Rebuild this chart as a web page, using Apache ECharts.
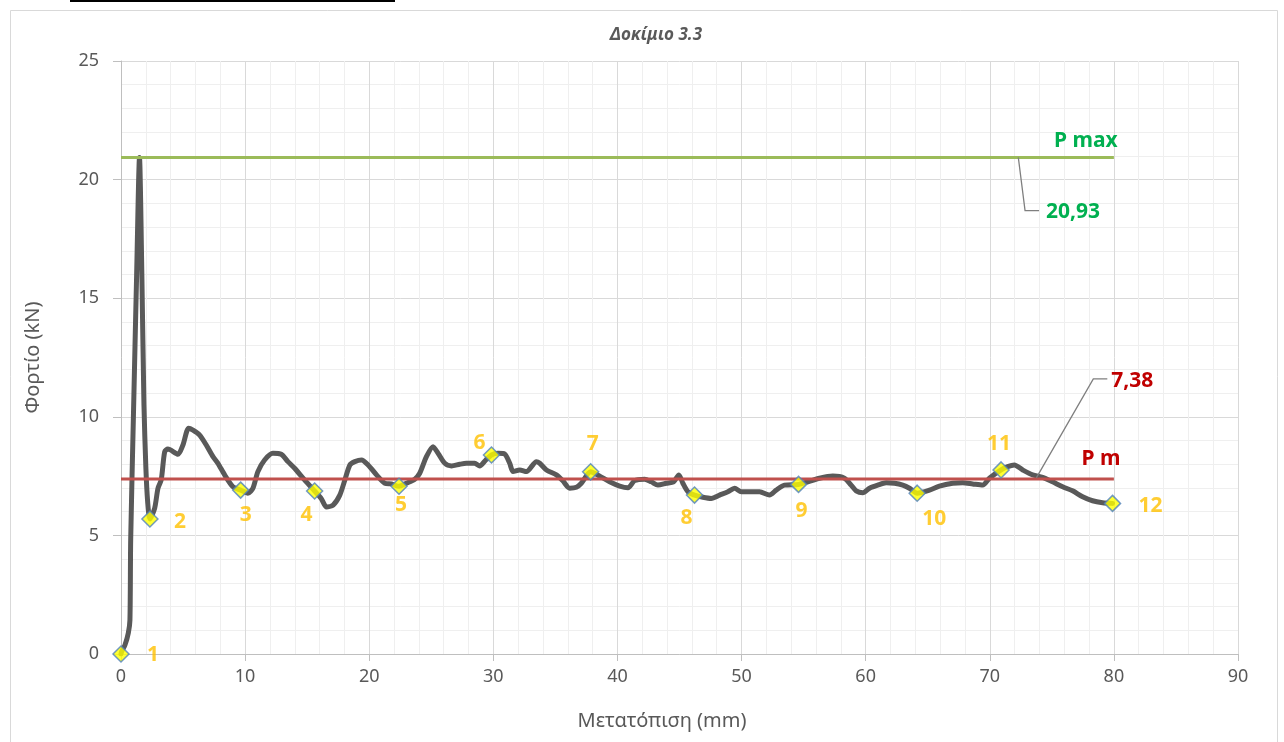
<!DOCTYPE html>
<html>
<head>
<meta charset="utf-8">
<script src="https://cdn.jsdelivr.net/npm/echarts@6/dist/echarts.min.js"></script>
<style>
  html, body { margin: 0; padding: 0; background: #ffffff; }
  #chart { width: 1284px; height: 742px; }
</style>
</head>
<body>
<div id="chart"></div>
<script>
// Load–displacement record of specimen 3.3
const dispX = [0, 0.05, 0.32, 0.59, 0.72, 0.78, 1.0, 1.26, 1.49, 1.68, 1.85, 2.0, 2.15, 2.33, 2.71, 2.98, 3.24, 3.52, 3.78, 4.59, 4.99, 5.45, 5.80, 6.34, 6.87, 7.41, 7.81, 8.35, 9.02, 9.64, 10.23, 10.63, 11.03, 11.57, 12.24, 12.91, 13.45, 13.99, 14.79, 15.60, 16.13, 16.56, 17.09, 17.63, 18.04, 18.44, 18.84, 19.38, 19.91, 20.59, 21.26, 21.80, 22.40, 23.00, 23.67, 24.07, 24.61, 25.14, 25.55, 26.09, 26.63, 27.29, 27.83, 28.50, 28.90, 29.39, 29.85, 30.38, 30.92, 31.32, 31.59, 32.13, 32.67, 33.47, 33.74, 34.28, 35.08, 35.60, 36.15, 36.69, 37.09, 37.84, 38.57, 39.37, 40.18, 40.85, 41.38, 42.19, 42.73, 43.26, 43.94, 44.52, 44.95, 45.27, 45.68, 46.21, 46.88, 47.56, 48.23, 48.90, 49.44, 49.98, 50.64, 51.45, 52.25, 52.79, 53.46, 54.59, 55.34, 56.28, 57.35, 58.29, 58.83, 59.23, 59.77, 60.31, 60.97, 61.65, 62.32, 62.99, 63.53, 64.15, 65.14, 65.94, 67.01, 67.82, 68.62, 69.43, 69.97, 70.91, 71.44, 71.98, 72.65, 73.45, 74.26, 75.06, 75.87, 76.67, 77.48, 78.28, 79.09, 79.89];
const loadY = [0, 0.10, 0.38, 0.89, 1.43, 4.8, 10, 16, 20.93, 16, 10.5, 7.9, 6.4, 5.69, 6.14, 6.99, 7.34, 8.53, 8.64, 8.42, 8.81, 9.52, 9.44, 9.23, 8.81, 8.32, 8.04, 7.55, 7.05, 6.91, 6.78, 6.99, 7.69, 8.18, 8.46, 8.42, 8.11, 7.83, 7.34, 6.87, 6.56, 6.20, 6.28, 6.70, 7.34, 7.97, 8.11, 8.18, 7.97, 7.55, 7.20, 7.17, 7.07, 7.20, 7.37, 7.62, 8.32, 8.74, 8.46, 8.04, 7.93, 8.00, 8.04, 8.04, 7.93, 8.18, 8.39, 8.46, 8.43, 8.04, 7.69, 7.76, 7.69, 8.11, 8.04, 7.76, 7.55, 7.30, 6.99, 7.03, 7.20, 7.68, 7.50, 7.26, 7.08, 7.01, 7.31, 7.37, 7.26, 7.12, 7.20, 7.26, 7.55, 7.20, 6.84, 6.70, 6.61, 6.56, 6.70, 6.84, 6.99, 6.84, 6.84, 6.84, 6.70, 6.91, 7.12, 7.15, 7.26, 7.41, 7.50, 7.41, 7.12, 6.88, 6.80, 6.99, 7.12, 7.22, 7.20, 7.12, 6.99, 6.78, 6.91, 7.08, 7.20, 7.22, 7.17, 7.12, 7.41, 7.76, 7.90, 7.97, 7.76, 7.55, 7.45, 7.26, 7.05, 6.88, 6.63, 6.46, 6.38, 6.35];

// Numbered reading points along the curve
const pointNames = ['1', '2', '3', '4', '5', '6', '7', '8', '9', '10', '11', '12'];
const pointX = [0, 2.33, 9.64, 15.60, 22.40, 29.85, 37.84, 46.21, 54.59, 64.15, 70.91, 79.89];
const pointY = [0, 5.69, 6.91, 6.87, 7.07, 8.39, 7.68, 6.70, 7.15, 6.78, 7.76, 6.35];

// Reference levels
const P_MAX = 20.93;
const P_M = 7.38;
const levelEndX = 80;
const pMaxText = '20,93';
const pMText = '7,38';

// Tick labels
const xTicks = [0, 10, 20, 30, 40, 50, 60, 70, 80, 90];
const yTicks = [0, 5, 10, 15, 20, 25];

const FONT = '"Noto Sans", "Open Sans", sans-serif';
const TXT = '#595959';

// Label placement around each numbered point (pixel offsets from the marker)
const labelOffsets = [[32, 1], [30, 3], [5, 25], [-8, 24], [2, 19], [-12, -12], [2, -28], [-8, 23], [3, 27], [17, 26], [-2, -26], [38, 3]];

const chart = echarts.init(document.getElementById('chart'), null, { renderer: 'canvas' });

const curve = dispX.map((x, i) => [x, loadY[i]]);
const points = pointX.map((x, i) => ({
  value: [x, pointY[i]],
  name: pointNames[i],
  label: { offset: labelOffsets[i] }
}));

chart.setOption({
  animation: false,
  backgroundColor: '#ffffff',
  title: {
    text: 'Δοκίμιο 3.3',
    left: 651, top: 22, textAlign: 'center',
    textStyle: { fontFamily: FONT, fontSize: 17, fontWeight: 'bold', fontStyle: 'italic', color: TXT }
  },
  grid: { left: 121, right: 46, top: 61, bottom: 88 },
  xAxis: {
    type: 'value', min: xTicks[0], max: xTicks[xTicks.length - 1], interval: 10,
    axisLine: { show: true, lineStyle: { color: '#BFBFBF', width: 1 } },
    axisTick: { show: true, length: 7, lineStyle: { color: '#BFBFBF' } },
    axisLabel: { margin: 14, fontFamily: FONT, fontSize: 18, color: TXT },
    splitLine: { show: true, lineStyle: { color: '#D9D9D9', width: 1 } },
    minorTick: { show: false, splitNumber: 5 },
    minorSplitLine: { show: true, lineStyle: { color: '#EFEFEF', width: 1 } }
  },
  yAxis: {
    type: 'value', min: yTicks[0], max: yTicks[yTicks.length - 1], interval: 5,
    name: 'Φορτίο (kN)', nameLocation: 'middle', nameGap: 78,
    nameTextStyle: { fontFamily: FONT, fontSize: 20, color: TXT },
    axisLine: { show: true, lineStyle: { color: '#BFBFBF', width: 1 } },
    axisTick: { show: true, length: 8, lineStyle: { color: '#BFBFBF' } },
    axisLabel: { margin: 22, fontFamily: FONT, fontSize: 18, color: TXT },
    splitLine: { show: true, lineStyle: { color: '#D9D9D9', width: 1 } },
    minorTick: { show: false, splitNumber: 5 },
    minorSplitLine: { show: true, lineStyle: { color: '#EFEFEF', width: 1 } }
  },
  series: [
    {
      name: 'curve', type: 'line', data: curve, smooth: 0.25, showSymbol: false, z: 2,
      lineStyle: { color: '#595959', width: 5, cap: 'round', join: 'round' }
    },
    {
      name: 'P max', type: 'line', data: [[0, P_MAX], [levelEndX, P_MAX]], showSymbol: false, z: 3,
      lineStyle: { color: '#9BBB59', width: 3 }
    },
    {
      name: 'P m', type: 'line', data: [[0, P_M], [levelEndX, P_M]], showSymbol: false, z: 3,
      lineStyle: { color: '#C0504D', width: 3 }
    },
    {
      name: 'points', type: 'scatter', data: points, symbol: 'diamond', symbolSize: 16, z: 5,
      itemStyle: { color: '#FFFF00', borderColor: '#4F81BD', borderWidth: 1.5 },
      label: {
        show: true, position: 'inside', formatter: '{b}', align: 'center', verticalAlign: 'middle',
        fontFamily: FONT, fontSize: 21, fontWeight: 'bold', color: '#FFC000'
      }
    }
  ]
});

// Value call-outs for the two reference levels, anchored to the chart's coordinates
function px(x, y) { return chart.convertToPixel({ gridIndex: 0 }, [x, y]); }

const maxEnd = px(levelEndX, P_MAX);
const maxA = px(72.3, P_MAX);
const maxB = px(72.6, P_MAX);
const mA = px(73.75, P_M);
const mEnd = px(levelEndX, P_M);

const boldText = (x, y, text, color, align) => ({
  type: 'text', x, y, z: 10,
  style: { text, fill: color, font: 'bold 21px ' + FONT, align: align || 'center', verticalAlign: 'middle' }
});

chart.setOption({
  graphic: [
    { type: 'rect', shape: { x: 10.5, y: 10.5, width: 1267, height: 740 }, style: { fill: 'none', stroke: '#D9D9D9', lineWidth: 1 }, z: 0 },
    { type: 'line', shape: { x1: 70, y1: 1, x2: 395, y2: 1 }, style: { stroke: '#000000', lineWidth: 2 } },
    {
      type: 'text', x: 662, y: 721, z: 10,
      style: { text: 'Μετατόπιση (mm)', fill: TXT, font: '20px ' + FONT, align: 'center', verticalAlign: 'middle' }
    },
    { type: 'polyline', z: 9, shape: { points: [maxA, [maxB[0] + 3, maxA[1] + 53], [maxB[0] + 17, maxA[1] + 53]] }, style: { stroke: '#7F7F7F', lineWidth: 1.3, fill: 'none' } },
    boldText(maxEnd[0] - 28, maxEnd[1] - 17, 'P max', '#00B050'),
    boldText(maxB[0] + 24, maxA[1] + 54, pMaxText, '#00B050', 'left'),
    { type: 'polyline', z: 9, shape: { points: [[mA[0], mA[1] - 1], [mA[0] + 57, mA[1] - 100], [mA[0] + 71, mA[1] - 100]] }, style: { stroke: '#7F7F7F', lineWidth: 1.3, fill: 'none' } },
    boldText(mEnd[0] - 13, mEnd[1] - 20, 'P m', '#C00000'),
    boldText(mA[0] + 75, mA[1] - 98, pMText, '#C00000', 'left')
  ]
});
</script>
</body>
</html>
